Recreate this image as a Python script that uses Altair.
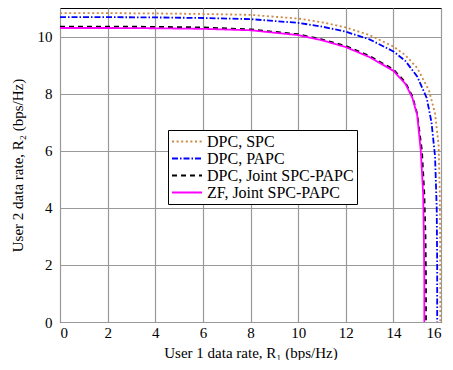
import altair as alt
import pandas as pd

series_names = ["DPC, SPC", "DPC, PAPC", "DPC, Joint SPC-PAPC", "ZF, Joint SPC-PAPC"]

x_dpc_spc = [0, 2, 4, 6, 8, 10, 11, 12, 13, 14, 14.5, 15, 15.5, 15.75, 15.9, 15.95, 15.97, 15.97]
y_dpc_spc = [10.82, 10.82, 10.81, 10.79, 10.76, 10.63, 10.5, 10.32, 10.05, 9.65, 9.35, 8.9, 8.1, 7.3, 6.2, 4.5, 2.0, 0]

x_dpc_papc = [0, 2, 4, 6, 8, 10, 11, 12, 13, 14, 14.5, 15, 15.4, 15.6, 15.75, 15.82, 15.84, 15.84]
y_dpc_papc = [10.68, 10.68, 10.67, 10.65, 10.61, 10.48, 10.35, 10.17, 9.9, 9.48, 9.15, 8.6, 7.85, 7.0, 5.8, 4.0, 2.0, 0]

x_dpc_joint = [0, 2, 4, 6, 8, 10, 11, 12, 13, 14, 14.5, 14.8, 15.0, 15.2, 15.3, 15.35, 15.37, 15.37]
y_dpc_joint = [10.35, 10.35, 10.34, 10.32, 10.25, 10.08, 9.9, 9.67, 9.32, 8.85, 8.4, 7.9, 7.3, 6.0, 4.5, 3.0, 1.5, 0]

x_zf_joint = [0, 2, 4, 6, 8, 10, 11, 12, 13, 14, 14.5, 14.8, 15.0, 15.15, 15.25, 15.28, 15.3, 15.3]
y_zf_joint = [10.3, 10.3, 10.29, 10.27, 10.22, 10.05, 9.87, 9.63, 9.28, 8.8, 8.35, 7.85, 7.25, 6.0, 4.5, 3.0, 1.5, 0]

x_ticks = [0, 2, 4, 6, 8, 10, 12, 14, 16]
y_ticks = [0, 2, 4, 6, 8, 10]

colors = ["#cc8844", "#0000ff", "#000000", "#ff00ff"]
dashes = [[2, 2.6], [6, 2, 1.5, 2], [5, 4], [1, 0]]

rows = []
for name, xs, ys in zip(series_names,
                        [x_dpc_spc, x_dpc_papc, x_dpc_joint, x_zf_joint],
                        [y_dpc_spc, y_dpc_papc, y_dpc_joint, y_zf_joint]):
    for i, (a, b) in enumerate(zip(xs, ys)):
        rows.append({"series": name, "x": a, "y": b, "order": i})
df = pd.DataFrame(rows)

font = "Liberation Serif"

legend = alt.Legend(
    title=None, orient="none", legendX=108, legendY=122,
    fillColor="white", strokeColor="black", padding=3, cornerRadius=0,
    symbolType="M-1,0L3,0", symbolSize=225, symbolStrokeWidth=2,
    labelFont=font, labelFontSize=16, labelColor="black", rowPadding=-3,
    labelOffset=19,
)

chart = alt.Chart(df).mark_line(clip=True, strokeWidth=1.8).encode(
    x=alt.X("x:Q", scale=alt.Scale(domain=[0, 16], nice=False, zero=False),
            axis=alt.Axis(values=x_ticks, title="User 1 data rate, R₁ (bps/Hz)")),
    y=alt.Y("y:Q", scale=alt.Scale(domain=[0, 11], nice=False, zero=False),
            axis=alt.Axis(values=y_ticks, title="User 2 data rate, R₂ (bps/Hz)")),
    color=alt.Color("series:N", scale=alt.Scale(domain=series_names, range=colors), legend=legend),
    strokeDash=alt.StrokeDash("series:N", scale=alt.Scale(domain=series_names, range=dashes), legend=legend),
    order="order:Q",
).properties(
    width=381, height=314,
    autosize=alt.AutoSizeParams(type="none"),
    padding={"left": 52, "top": 0, "right": 4, "bottom": 38},
).configure_view(
    stroke="black", strokeWidth=1
).configure_axis(
    labelFont=font, titleFont=font, labelFontSize=15, titleFontSize=15,
    titleFontWeight="normal", labelColor="black", titleColor="black",
    domain=False, ticks=False, grid=True, gridColor="#999999", gridWidth=1.2,
).configure_axisX(
    labelPadding=3, titlePadding=5
).configure_axisY(
    labelPadding=8, titlePadding=12
)

chart.save("out.html", embed_options={"renderer": "svg", "actions": False})
